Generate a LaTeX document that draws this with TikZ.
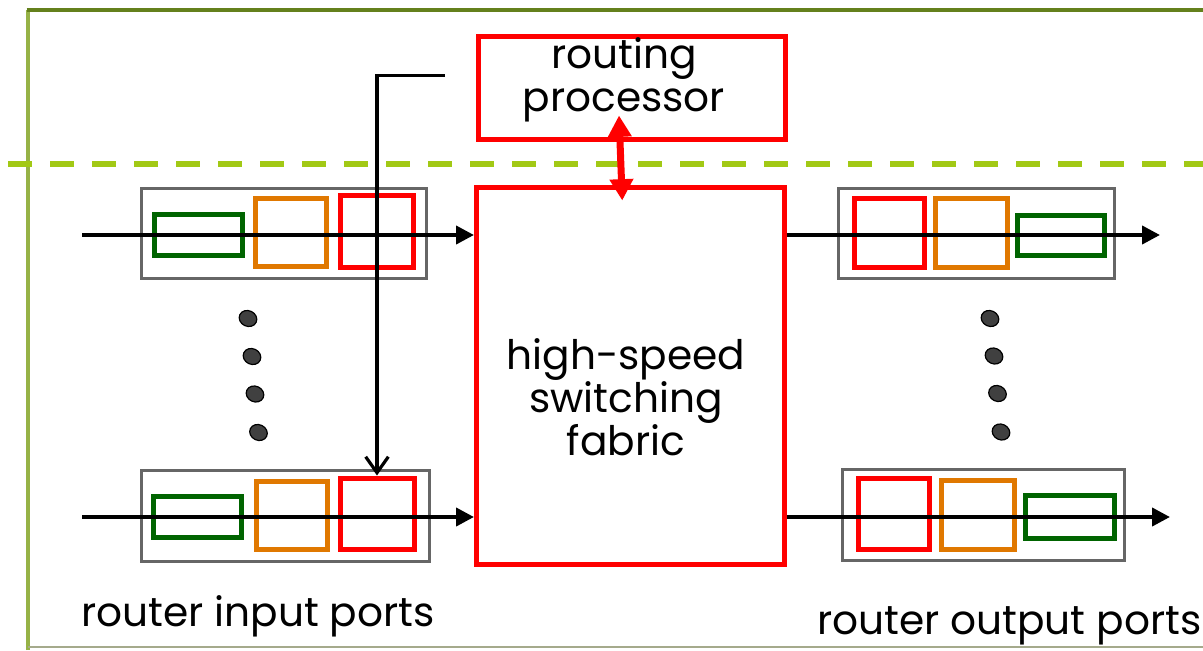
\documentclass[tikz,border=0pt]{standalone}
\usepackage{fontspec}
\setmainfont{Poppins}
\usetikzlibrary{arrows.meta,fit,calc}
\definecolor{rred}{RGB}{255,0,0}
\definecolor{orng}{RGB}{224,120,0}
\definecolor{dgrn}{RGB}{0,100,0}
\definecolor{pgray}{RGB}{102,102,102}
\definecolor{dashg}{RGB}{162,201,21}
\definecolor{frtop}{RGB}{100,128,28}
\definecolor{frleft}{RGB}{150,178,70}
\definecolor{frbot}{RGB}{165,170,140}
\definecolor{dotc}{RGB}{64,64,64}
\begin{document}
\begin{tikzpicture}[x=0.75pt,y=-0.75pt,
  redbox/.style={draw=rred,line width=3.75pt,inner sep=0pt},
  portbox/.style={draw=pgray,line width=2.25pt,inner sep=0pt},
  gbox/.style={draw=dgrn,line width=3.75pt,inner sep=0pt},
  obox/.style={draw=orng,line width=3.75pt,inner sep=0pt},
  rbox/.style={draw=rred,line width=3.75pt,inner sep=0pt},
  flow/.style={draw=black,line width=3pt,-{Triangle[length=13.5pt,width=13.5pt]}},
  ctrl/.style={draw=black,line width=2.4pt,-{Straight Barb[length=12pt,width=17pt,line width=2.4pt]}},
  dbl/.style={draw=rred,line width=5.25pt,{Triangle[length=16pt,width=17pt]}-{Triangle[length=16pt,width=17pt]}},
  txt/.style={font=\fontsize{30.5}{32.25}\selectfont,text=black,inner sep=0pt,align=center},
  dot/.style={fill=dotc,draw=black,line width=0.9pt},
]
\useasboundingbox (0,0) rectangle (1203,650);
% frame
\draw[frleft,line width=3pt] (28,650) -- (28,10);
\draw[frtop,line width=3.5pt] (26.5,10) -- (1203,10);
\draw[frbot,line width=1.5pt] (28,647) -- (1203,647);
% dashed separator
\draw[dashg,line width=4.5pt,dash pattern=on 18pt off 13.5pt] (8,163.5) -- (1203,163.5);
% main boxes
\node[redbox,fit={(478,36)(785,139)}] (rp) {};
\node[redbox,fit={(476.5,187)(784,564)}] (fab) {};
\node[txt] (rpt) at (624,80) {routing\\processor};
\node[txt] (fabt) at (626,397) {high-speed\\switching\\fabric};
% input port top
\node[portbox,fit={(141.5,188)(426,278)}] (i1) {};
\node[gbox,fit={(154,214)(242,255)}] (i1g) {};
\node[obox,fit={(255.5,198)(326.5,266.5)}] (i1o) {};
\node[rbox,fit={(340,195.5)(413,267)}] (i1r) {};
% input port bottom
\node[portbox,fit={(141.5,470)(429,561)}] (i2) {};
\node[gbox,fit={(153,496)(241,537)}] (i2g) {};
\node[obox,fit={(256,481)(327,549)}] (i2o) {};
\node[rbox,fit={(340,478)(414,549)}] (i2r) {};
% output port top
\node[portbox,fit={(838,188)(1114,278)}] (o1) {};
\node[rbox,fit={(854,198)(924,267)}] (o1r) {};
\node[obox,fit={(935,198)(1007,267)}] (o1o) {};
\node[gbox,fit={(1017,215)(1104,255)}] (o1g) {};
% output port bottom
\node[portbox,fit={(842,469)(1124,560)}] (o2) {};
\node[rbox,fit={(858.5,478)(929,549)}] (o2r) {};
\node[obox,fit={(941,480)(1014,549)}] (o2o) {};
\node[gbox,fit={(1025,495)(1114,538)}] (o2g) {};
% flow arrows
\coordinate (in1) at (82,235);
\coordinate (in2) at (82,517);
\coordinate (out1) at (1160,235);
\coordinate (out2) at (1170,517);
\draw[flow] (in1) -- (in1 -| fab.west);
\draw[flow] (in2) -- (in2 -| fab.west);
\draw[flow] (out1 -| fab.east) -- (out1);
\draw[flow] (out2 -| fab.east) -- (out2);
% control path
\coordinate (ctl) at (445,75.5);
\draw[ctrl] (ctl) -| (i2r.north);
% routing processor <-> fabric
\draw[dbl] ($(rp.south)+(-12.5,-26)$) -- ($(fab.north)+(-8,16)$);
% dots
\foreach \x/\y in {248/318.5,252/356.5,255/394,258.5/432.5,990/318.5,994/356,997.5/393.5,1001/432}
  \draw[dot,rotate around={-25:(\x,\y)}] (\x,\y) ellipse [x radius=9,y radius=7.8];
% labels
\node[txt,anchor=base west] (inlab) at (81,626) {router input ports};
\node[txt,anchor=base west] (outlab) at (817,634) {router output ports};
\end{tikzpicture}
\end{document}
